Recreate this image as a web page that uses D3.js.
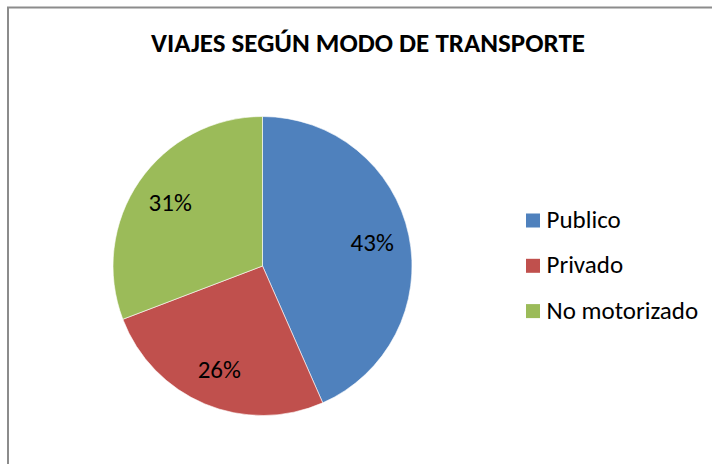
<!DOCTYPE html>
<html>
<head>
<meta charset="utf-8">
<script src="https://cdn.jsdelivr.net/npm/d3@7"></script>
<style>
  body { margin: 0; background: #fff; }
  svg { display: block; font-family: Calibri, Carlito, Lato, sans-serif; }
</style>
</head>
<body>
<div id="chart"></div>
<script>
"use strict";

// chart data
var title = "VIAJES SEGÚN MODO DE TRANSPORTE";
var modes = ["Publico", "Privado", "No motorizado"];
var shares = [43.4, 25.8, 30.8];
var colors = ["#4F81BD", "#C0504D", "#9BBB59"];

var width = 712, height = 464;
var cx = 262.5, cy = 266, radius = 149.5;

var svg = d3.select("#chart")
  .append("svg")
  .attr("width", width)
  .attr("height", height);

// chart area border (runs off the right and bottom edge)
svg.append("rect")
  .attr("x", 8)
  .attr("y", 7.5)
  .attr("width", 720)
  .attr("height", 470)
  .attr("fill", "#fff")
  .attr("stroke", "#8c8c8c")
  .attr("stroke-width", 2);

svg.append("text")
  .attr("x", 368)
  .attr("y", 52)
  .attr("text-anchor", "middle")
  .style("font-weight", "bold")
  .style("font-size", "27px")
  .attr("fill", "#000")
  .text(title);

var data = modes.map(function (m, i) {
  return { mode: m, value: shares[i], color: colors[i] };
});
var total = d3.sum(shares);

var pie = d3.pie()
  .sort(null)
  .value(function (d) { return d.value; });

var arc = d3.arc().innerRadius(0).outerRadius(radius);
var labelArc = d3.arc().innerRadius(radius * 0.75).outerRadius(radius * 0.75);

var g = svg.append("g")
  .attr("transform", "translate(" + cx + "," + cy + ")");

var slices = pie(data);

g.selectAll("path")
  .data(slices)
  .enter()
  .append("path")
  .attr("d", arc)
  .attr("fill", function (d) { return d.data.color; })
  .attr("stroke", "#fff")
  .attr("stroke-width", 0.6);

g.selectAll("text")
  .data(slices)
  .enter()
  .append("text")
  .attr("transform", function (d) { return "translate(" + labelArc.centroid(d) + ")"; })
  .attr("text-anchor", "middle")
  .attr("dy", "0.34em")
  .style("font-size", "25px")
  .attr("fill", "#000")
  .text(function (d) { return Math.round(d.data.value / total * 100) + "%"; });

// legend
var legend = svg.append("g")
  .attr("transform", "translate(526,213.5)");

var item = legend.selectAll("g")
  .data(data)
  .enter()
  .append("g")
  .attr("transform", function (d, i) { return "translate(0," + (i * 45.3) + ")"; });

item.append("rect")
  .attr("width", 14)
  .attr("height", 14)
  .attr("fill", function (d) { return d.color; });

item.append("text")
  .attr("x", 20.5)
  .attr("y", 14.5)
  .style("font-size", "25px")
  .attr("fill", "#000")
  .text(function (d) { return d.mode; });
</script>
</body>
</html>
